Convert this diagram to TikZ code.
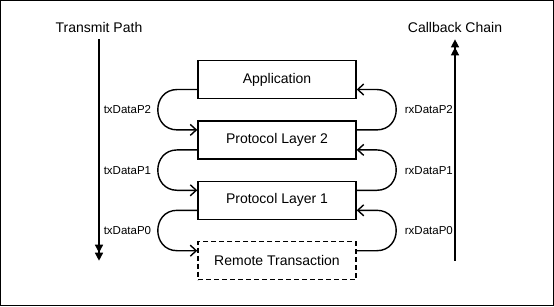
\documentclass[tikz,border=0pt]{standalone}
\usepackage{fontspec}
\setmainfont{Liberation Sans}
\usetikzlibrary{arrows.meta,positioning,calc}

\begin{document}
\begin{tikzpicture}[x=1pt,y=-1pt,
  layer/.style={draw,line width=1.4pt,minimum width=158pt,minimum height=38pt,
    inner sep=0pt,font=\fontsize{14}{16}\selectfont},
  remote/.style={layer,dash pattern=on 5pt off 3pt},
  title/.style={font=\fontsize{14}{16}\selectfont,inner sep=0pt},
  lbl/.style={font=\fontsize{11.5}{13}\selectfont,inner sep=0pt},
  flow/.style={-{Straight Barb[length=6pt,width=11pt]},line width=1.4pt},
  path/.style={-{Triangle[length=8pt,width=8pt]Triangle[length=8pt,width=8pt]},line width=1.4pt}]
\useasboundingbox (0,0) rectangle (554,306);
\draw[line width=1pt] (0.5,0.5) rectangle (553.5,305.5);
\node[layer] (app) at (277,79.5) {Application};
\node[layer,below=21pt of app] (pl2) {Protocol Layer 2};
\node[layer,below=21pt of pl2] (pl1) {Protocol Layer 1};
\node[remote,below=21pt of pl1] (rt) {Remote Transaction};
\node[title] (txt) at (99,27) {Transmit Path};
\node[title] (cbt) at (455,27) {Callback Chain};
\coordinate[below=7pt of txt] (txtop);
\coordinate (txend) at (txtop |- rt.center);
\coordinate[below=7pt of cbt] (cbtop);
\coordinate (cbend) at (cbtop |- rt.center);
\draw[path] (txtop) -- (txend);
\draw[path] (cbend) -- (cbtop);
% going down on the left
\foreach \a/\b/\l in {app/pl2/txDataP2,pl2/pl1/txDataP1,pl1/rt/txDataP0}{
  \draw[flow] ([yshift=-10pt]\a.west) -- ++(-20pt,0)
    .. controls +(-26pt,0) and +(-26pt,0) .. ([shift={(-20pt,10pt)}]\b.west)
    -- ([yshift=10pt]\b.west);
  \path ($(\a.west)!.5!(\b.west)$) ++(-46pt,0) node[lbl,anchor=east] (\l) {\l};
}
% coming back on the right
\foreach \a/\b/\l in {pl2/app/rxDataP2,pl1/pl2/rxDataP1,rt/pl1/rxDataP0}{
  \draw[flow] ([yshift=10pt]\a.east) -- ++(20pt,0)
    .. controls +(26pt,0) and +(26pt,0) .. ([shift={(20pt,-10pt)}]\b.east)
    -- ([yshift=-10pt]\b.east);
  \path ($(\a.east)!.5!(\b.east)$) ++(48pt,0) node[lbl,anchor=west] (\l) {\l};
}
\end{tikzpicture}
\end{document}
